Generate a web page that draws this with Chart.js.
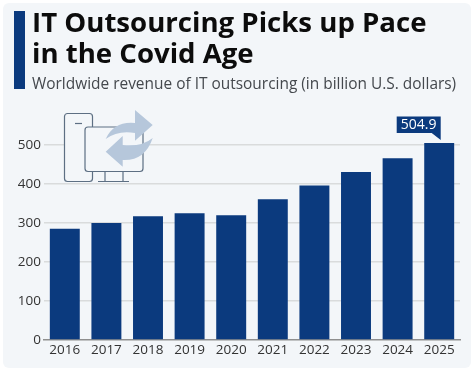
<!DOCTYPE html>
<html>
<head>
<meta charset="utf-8">
<style>
  html, body { margin: 0; padding: 0; background: #fff; }
  #card { position: absolute; left: 3px; top: 3px; width: 468px; height: 365px; background: #f3f6f9; border-radius: 6px; }
  #wrap { position: absolute; left: 0; top: 0; width: 474px; height: 372px; overflow: hidden; font-family: "Open Sans", sans-serif; }
  #bar { position: absolute; left: 14px; top: 11px; width: 11px; height: 78px; background: #0b3a7e; }
  h1 { position: absolute; left: 32px; top: 6px; margin: 0; font-size: 27.6px; line-height: 31px; font-weight: 700; color: #0c0c0c; white-space: nowrap; }
  #sub { position: absolute; left: 32px; top: 73px; font-size: 15.45px; line-height: 20px; color: #44484d; white-space: nowrap; }
  #chart { position: absolute; left: 0; top: 0; }
  #icon { position: absolute; left: 60px; top: 108px; }
</style>
</head>
<body>
<div id="wrap">
  <div id="card"></div>
  <canvas id="chart" width="474" height="372"></canvas>
  <div id="bar"></div>
  <h1>IT Outsourcing Picks up Pace<br>in the Covid Age</h1>
  <div id="sub">Worldwide revenue of IT outsourcing (in billion U.S. dollars)</div>
  <svg id="icon" width="100" height="80" viewBox="0 0 100 80">
    <!-- telefoon + monitor -->
    <rect x="4.5" y="5.5" width="28" height="68" rx="3" fill="#f3f6f9" stroke="#5d6f83" stroke-width="1.2"/>
    <line x1="15" y1="15.5" x2="22" y2="15.5" stroke="#5d6f83" stroke-width="1.2"/>
    <rect x="25" y="19" width="58" height="44.5" rx="3" fill="#f3f6f9" stroke="#5d6f83" stroke-width="1.2"/>
    <path d="M45 64V73M63 64V73M38 73.5H69" fill="none" stroke="#5d6f83" stroke-width="1.2"/>
    <!-- pijlen -->
    <path d="M45.7 31Q54 13 75 15V2L92.7 17L75 32.7V25Q58 22 45.7 31Z" fill="#b6c7db"/>
    <path d="M92.7 30Q82 39 62.7 37V28L45.7 43.7L62.7 58.7V52Q85 53 92.7 30Z" fill="#b6c7db"/>
  </svg>
</div>
<script src="https://cdn.jsdelivr.net/npm/chart.js@4/dist/chart.umd.min.js"></script>
<script>
const years = ["2016", "2017", "2018", "2019", "2020", "2021", "2022", "2023", "2024", "2025"];
const revenue = [285, 300, 317, 325, 320, 361, 396, 431, 466, 504.9];
const calloutValue = "504.9";

// label boven de laatste balk
const callout = {
  id: "callout",
  afterDatasetsDraw(chart) {
    const last = chart.getDatasetMeta(0).data[years.length - 1];
    const c = chart.ctx;
    const right = last.x + 1.5;
    const left = right - 44;
    const bottom = last.y - 10;
    const top = bottom - 16.5;
    c.save();
    c.fillStyle = "#0b3a7e";
    c.beginPath();
    c.moveTo(left, top);
    c.lineTo(right, top);
    c.lineTo(right, bottom + 7);
    c.lineTo(right - 9, bottom);
    c.lineTo(left, bottom);
    c.closePath();
    c.fill();
    c.fillStyle = "#fff";
    c.font = '14px "Open Sans", sans-serif';
    c.textAlign = "center";
    c.textBaseline = "middle";
    c.fillText(calloutValue, (left + right) / 2, (top + bottom) / 2 + 0.5);
    c.restore();
  },
};

new Chart(document.getElementById("chart").getContext("2d"), {
  type: "bar",
  data: {
    labels: years,
    datasets: [{
      data: revenue,
      backgroundColor: "#0b3a7e",
      categoryPercentage: 1,
      barPercentage: 0.72,
    }],
  },
  options: {
    responsive: false,
    animation: false,
    layout: { padding: { top: 106, right: 14, left: 0, bottom: 0 } },
    plugins: { legend: { display: false }, tooltip: { enabled: false } },
    scales: {
      x: {
        grid: { display: false, drawTicks: false, tickLength: 0 },
        border: { color: "#8f8f8f", width: 1.5 },
        ticks: { color: "#333", font: { family: "Open Sans", size: 13.5 }, padding: 2, maxRotation: 0, autoSkip: false },
        afterFit(axis) { axis.height = 32; },
      },
      y: {
        min: 0,
        max: 600,
        border: { display: false },
        grid: {
          color: (ctx) => (ctx.tick.value > 500 || ctx.tick.value === 0 ? "transparent" : "#d9dbdc"),
          lineWidth: 1.5,
          drawTicks: false,
        },
        ticks: {
          stepSize: 100,
          color: "#333",
          padding: 3,
          font: { family: "Open Sans", size: 13.5 },
          callback: (v) => (v > 500 ? "" : v),
        },
        afterFit(axis) { axis.width = 44; },
      },
    },
  },
  plugins: [callout],
});
</script>
</body>
</html>
